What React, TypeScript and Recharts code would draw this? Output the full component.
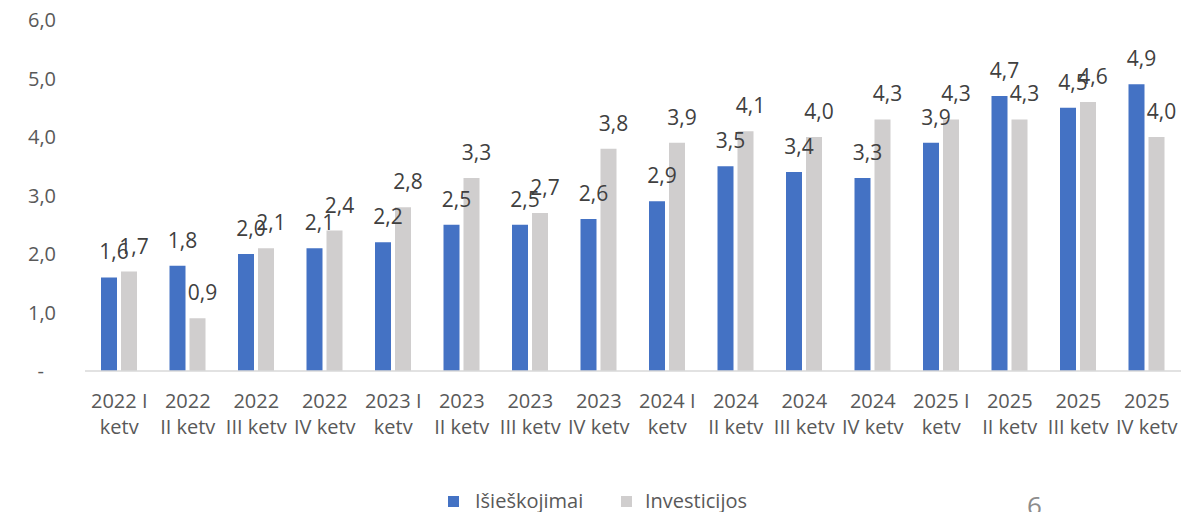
import React from "react";
import { BarChart, Bar, XAxis, YAxis, LabelList } from "recharts";

const categories = [
  "2022 I ketv", "2022 II ketv", "2022 III ketv", "2022 IV ketv",
  "2023 I ketv", "2023 II ketv", "2023 III ketv", "2023 IV ketv",
  "2024 I ketv", "2024 II ketv", "2024 III ketv", "2024 IV ketv",
  "2025 I ketv", "2025 II ketv", "2025 III ketv", "2025 IV ketv",
];
const isieskojimai = [1.6, 1.8, 2.0, 2.1, 2.2, 2.5, 2.5, 2.6, 2.9, 3.5, 3.4, 3.3, 3.9, 4.7, 4.5, 4.9];
const investicijos = [1.7, 0.9, 2.1, 2.4, 2.8, 3.3, 2.7, 3.8, 3.9, 4.1, 4.0, 4.3, 4.3, 4.3, 4.6, 4.0];
const yTicks = [0, 1, 2, 3, 4, 5, 6];
const seriesNames = ["Išieškojimai", "Investicijos"];
const pageNumber = "6";

const BLUE = "#4472C4";
const GRAY = "#D0CECE";
const FONT = "'Open Sans', 'Noto Sans', sans-serif";

const data = categories.map((c, i) => ({
  name: c,
  a: isieskojimai[i],
  b: investicijos[i],
}));

const fmt = (v: number) => v.toFixed(1).replace(".", ",");

const splitLabel = (s: string): [string, string] => {
  const parts = s.split(" ");
  const year = parts[0];
  const q = parts[1];
  if (q === "I") return [`${year} I`, "ketv"];
  return [year, `${q} ketv`];
};

const XTick = (props: any) => {
  const { x, y, payload } = props;
  const [l1, l2] = splitLabel(payload.value);
  return (
    <g>
      <text x={x} y={y + 37} textAnchor="middle" fill="#595959" fontSize={20} fontFamily={FONT}>{l1}</text>
      <text x={x} y={y + 63} textAnchor="middle" fill="#595959" fontSize={20} fontFamily={FONT}>{l2}</text>
    </g>
  );
};

const YTick = (props: any) => {
  const { x, y, payload } = props;
  const v = payload.value as number;
  if (v === 0) {
    return (
      <text x={x - 12} y={y + 7} textAnchor="end" fill="#595959" fontSize={20} fontFamily={FONT}>-</text>
    );
  }
  return (
    <text x={x} y={y + 7} textAnchor="end" fill="#595959" fontSize={20} fontFamily={FONT}>{fmt(v)}</text>
  );
};

export default function App() {
  return (
    <div style={{ position: "absolute", left: 0, top: 0, width: 1194, height: 512, background: "#fff", overflow: "hidden" }}>
      <BarChart
        width={1194}
        height={512}
        data={data}
        margin={{ top: 20, right: 13, bottom: 71, left: 0 }}
        barSize={16}
        barGap={4}
      >
        <XAxis
          dataKey="name"
          height={70}
          axisLine={{ stroke: "#D9D9D9", strokeWidth: 1.5 }}
          tickLine={false}
          tickSize={0}
          tickMargin={0}
          interval={0}
          tick={<XTick />}
        />
        <YAxis
          width={85}
          domain={[0, 6]}
          ticks={yTicks}
          axisLine={false}
          tickLine={false}
          tickSize={0}
          tickMargin={29}
          tick={<YTick />}
        />
        <Bar dataKey="a" name={seriesNames[0]} fill={BLUE} isAnimationActive={false}>
          <LabelList dataKey="a" position="top" offset={18} dx={5} formatter={(v: any) => fmt(Number(v))} fill="#404040" fontSize={21} fontFamily={FONT} />
        </Bar>
        <Bar dataKey="b" name={seriesNames[1]} fill={GRAY} isAnimationActive={false}>
          <LabelList dataKey="b" position="top" offset={18} dx={5} formatter={(v: any) => fmt(Number(v))} fill="#404040" fontSize={21} fontFamily={FONT} />
        </Bar>
      </BarChart>
      <div style={{ position: "absolute", left: 448, top: 496, width: 11, height: 11, background: BLUE }} />
      <div style={{ position: "absolute", left: 475, top: 491, fontFamily: FONT, fontSize: 20, lineHeight: "20px", color: "#595959", whiteSpace: "nowrap" }}>{seriesNames[0]}</div>
      <div style={{ position: "absolute", left: 621, top: 496, width: 11, height: 11, background: GRAY }} />
      <div style={{ position: "absolute", left: 645, top: 491, fontFamily: FONT, fontSize: 20, lineHeight: "20px", color: "#595959", whiteSpace: "nowrap" }}>{seriesNames[1]}</div>
      <div style={{ position: "absolute", left: 1027, top: 492, fontFamily: FONT, fontSize: 26, lineHeight: "26px", color: "#8c8c8c" }}>{pageNumber}</div>
    </div>
  );
}
